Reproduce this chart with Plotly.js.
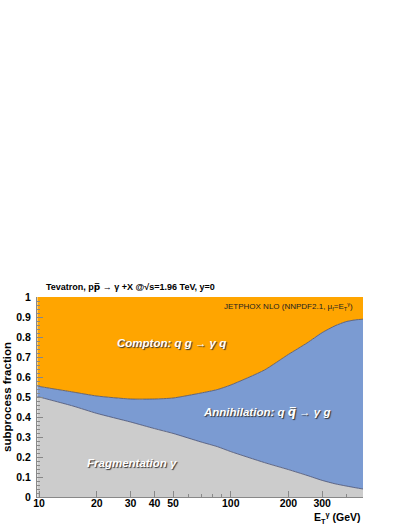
<!DOCTYPE html>
<html>
<head>
<meta charset="utf-8">
<script src="https://cdn.plot.ly/plotly-3.0.1.min.js"></script>
<style>body{margin:0;padding:0;background:#fff}#chart{width:408px;height:527px}</style>
</head>
<body>
<div id="chart"></div>
<script>
// E_T^gamma (GeV)
const et = [9.8, 10, 15, 20, 30, 40, 50, 70, 85, 100, 150, 200, 250, 300, 350, 400, 450, 490];
// cumulative fraction: fragmentation
const fragmentation = [0.502, 0.500, 0.455, 0.418, 0.375, 0.342, 0.318, 0.275, 0.252, 0.227, 0.172, 0.137, 0.108, 0.083, 0.066, 0.055, 0.046, 0.040];
// cumulative fraction: fragmentation + annihilation
const fragPlusAnnihilation = [0.555, 0.553, 0.525, 0.505, 0.490, 0.490, 0.495, 0.520, 0.537, 0.560, 0.635, 0.713, 0.770, 0.822, 0.856, 0.877, 0.886, 0.889];
// total (fragmentation + annihilation + compton)
const total = [1, 1, 1, 1, 1, 1, 1, 1, 1, 1, 1, 1, 1, 1, 1, 1, 1, 1];

const yTickVals = [0, 0.1, 0.2, 0.3, 0.4, 0.5, 0.6, 0.7, 0.8, 0.9, 1];
const yTickText = ["0", "0.1", "0.2", "0.3", "0.4", "0.5", "0.6", "0.7", "0.8", "0.9", "1"];
const xTickVals = [10, 20, 30, 40, 50, 100, 200, 300];
const xTickText = ["10", "20", "30", "40", "50", "100", "200", "300"];
const xMinorVals = [60, 70, 80, 90, 400];

const edge = {color: '#4a5070', width: 0.8, shape: 'spline', smoothing: 0.6};

const traces = [
  {x: et, y: fragmentation, type: 'scatter', mode: 'lines', fill: 'tozeroy',
   fillcolor: '#cccccc', line: edge, hoverinfo: 'skip'},
  {x: et, y: fragPlusAnnihilation, type: 'scatter', mode: 'lines', fill: 'tonexty',
   fillcolor: '#7b9bd2', line: edge, hoverinfo: 'skip'},
  {x: et, y: total, type: 'scatter', mode: 'lines', fill: 'tonexty',
   fillcolor: '#ffa500', line: {color: '#ffa500', width: 0}, hoverinfo: 'skip'}
];

const FAM = 'Liberation Sans, Arial, sans-serif';
const bold = {family: FAM, size: 10.5, color: '#000', weight: 'bold'};
const labelFont = {family: FAM, size: 11.5, color: '#fff',
  weight: 'bold', style: 'italic', shadow: '1px 1px 1px #333'};
const BAR = (c) => "<span style='font-family:DejaVu Sans'>" + c + "\u0305</span>";

const layout = {
  width: 408, height: 527,
  margin: {l: 37, r: 45, t: 297, b: 30, pad: 0},
  paper_bgcolor: '#fff', plot_bgcolor: '#fff',
  showlegend: false,
  xaxis: {
    type: 'log', range: [Math.log10(9.75), Math.log10(490)],
    tickvals: xTickVals, ticktext: xTickText,
    ticks: 'inside', ticklen: 6, tickcolor: '#888', tickwidth: 1,
    minor: {tickvals: xMinorVals, ticks: 'inside', ticklen: 3, tickcolor: '#888'},
    showgrid: false, zeroline: false,
    showline: true, linecolor: '#888', linewidth: 1, mirror: false,
    tickfont: bold, ticklabelstandoff: -4
  },
  yaxis: {
    range: [0, 1],
    tickvals: yTickVals, ticktext: yTickText,
    ticks: 'inside', ticklen: 6, tickcolor: '#888', tickwidth: 1,
    minor: {dtick: 0.02, ticks: 'inside', ticklen: 3, tickcolor: '#888'},
    showgrid: false, zeroline: false,
    showline: true, linecolor: '#888', linewidth: 1,
    tickfont: bold, ticklabelstandoff: 3,
    title: {text: 'subprocess fraction', font: {family: FAM, size: 11.5, color: '#000', weight: 'bold'}, standoff: 2}
  },
  annotations: [
    {text: 'Tevatron, p' + BAR('p') + ' \u2192 \u03b3 +X @\u221as=1.96 TeV, y=0',
     xref: 'paper', yref: 'paper', x: 0.02, y: 1.0, xanchor: 'left', yanchor: 'bottom', yshift: 3,
     showarrow: false, font: {family: FAM, size: 9, color: '#000', weight: 'bold'}},
    {text: 'JETPHOX NLO (NNPDF2.1, \u03bc<sub>f</sub>=E<sub>T</sub><sup>\u03b3</sup>)',
     xref: 'paper', yref: 'paper', x: 0.975, y: 0.955, xanchor: 'right', yanchor: 'middle',
     showarrow: false, font: {family: FAM, size: 8, color: '#222'}},
    {text: 'Compton: q g \u2192 \u03b3 q', xref: 'x', yref: 'y', x: Math.log10(49), y: 0.77,
     showarrow: false, font: labelFont},
    {text: 'Annihilation: q ' + BAR('q') + ' \u2192 \u03b3 g', xref: 'x', yref: 'y', x: Math.log10(154), y: 0.425,
     showarrow: false, font: labelFont},
    {text: 'Fragmentation \u03b3', xref: 'x', yref: 'y', x: Math.log10(30.4), y: 0.17,
     showarrow: false, font: labelFont},
    {text: 'E<sub>T</sub><sup>\u03b3</sup> (GeV)', xref: 'paper', yref: 'paper', x: 1.0, y: 0,
     xanchor: 'right', yanchor: 'top', yshift: -11, showarrow: false,
     font: {family: FAM, size: 10.5, color: '#000', weight: 'bold'}}
  ]
};

Plotly.newPlot('chart', traces, layout, {staticPlot: true, displayModeBar: false});
</script>
</body>
</html>
